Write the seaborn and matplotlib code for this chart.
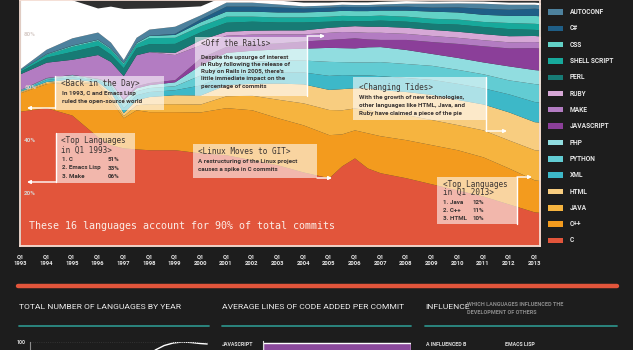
import matplotlib
matplotlib.use("Agg")
import matplotlib.pyplot as plt
import seaborn as sns
from matplotlib.patches import Rectangle, FancyArrowPatch
from matplotlib.lines import Line2D

# ---------------- data (share of commits, %) ----------------
years = [1993, 1994, 1995, 1996, 1996.5, 1997, 1997.5, 1998, 1999, 2000, 2001, 2002, 2003,
         2004, 2005, 2005.5, 2006, 2006.5, 2007, 2008, 2009, 2010, 2011, 2012, 2013, 2013.25]
c_lang = [51, 52.3, 49.5, 41.3, 38.3, 37.1, 36.7, 36.4, 36.4, 35.2, 34.5, 32.6, 30.7, 28, 25.8, 30.3, 33.3, 29.5, 27.7, 25.8, 23.5, 21.2, 18.9, 15.9, 12.9, 12.7]
cpp = [7, 9.1, 12.5, 20, 17, 11.4, 14.8, 14.4, 14.4, 15.5, 17.8, 18.9, 17.8, 17.8, 16.3, 12.1, 10.6, 13.3, 14, 14.4, 14.8, 15.2, 14.8, 13.6, 12.1, 12]
java = [0.3, 0.4, 0.6, 0.4, 1.5, 0.8, 1.9, 3, 3, 3, 4.5, 5.5, 7, 8.3, 9.5, 9.1, 8.3, 8.7, 9.1, 9.5, 9.5, 9.5, 10.2, 10.6, 11.4, 11.5]
html = [0.3, 0.4, 0.6, 0.4, 1.5, 1.1, 1.9, 2.7, 3.4, 3.4, 4.2, 4.5, 6.1, 7.2, 7.6, 8, 7.6, 8.3, 8.3, 8.7, 9.5, 9.5, 9.8, 10.6, 10.6, 10.6]
xml = [0.3, 0.8, 0.8, 0.6, 2.3, 1.9, 1.9, 1.9, 1.9, 3.8, 3.8, 3.8, 4.2, 4.5, 5.3, 5.3, 4.9, 4.9, 5.3, 5.3, 5.7, 6.1, 6.1, 6.8, 7.6, 7.6]
python = [0.3, 0.4, 0.4, 0.4, 0.8, 1.5, 1.5, 1.5, 1.5, 3.8, 4.2, 4.5, 4.5, 4.5, 5.3, 4.9, 4.9, 4.9, 5.3, 5.3, 5.3, 5.3, 5.3, 5.3, 6.8, 6.8]
php = [0, 0.2, 0.4, 0.2, 0.4, 1.5, 1.1, 1.1, 1.5, 3.8, 4.2, 4.2, 4.2, 4.5, 5.3, 5.3, 5.3, 5.7, 5.7, 5.3, 4.5, 4.5, 4.5, 5.3, 5.3, 5.3]
javascript = [0, 0.1, 0.1, 0.1, 0.2, 0.4, 0.8, 0.8, 0.8, 2.7, 2.3, 2.3, 2.3, 2.7, 3, 3.4, 3.8, 3, 2.7, 3.8, 4.5, 5.3, 6.1, 6.8, 8.3, 8.3]
make = [6, 5.8, 5.7, 9, 7.8, 8.7, 11.7, 11.7, 9.5, 4.9, 4.2, 3.8, 3.4, 2.7, 2.7, 2.7, 2.3, 2.5, 2.7, 2.3, 2.3, 2.3, 2.3, 2.3, 2.3, 2.3]
ruby = [0, 0, 0, 0, 0, 0, 0, 0, 0.8, 1.9, 1.5, 1.5, 1.5, 1.5, 1.9, 1.9, 2.3, 2.3, 2.3, 2.3, 2.3, 2.3, 2.3, 2.3, 2.3, 2.3]
perl = [1, 1.9, 3, 3.4, 2.7, 3, 2.7, 3, 3.4, 3, 3.4, 3.4, 3, 3, 2.3, 2.3, 1.9, 2.1, 2.3, 2.3, 2.3, 2.7, 2.7, 2.7, 2.3, 2.3]
shell = [0.5, 1.1, 1.9, 1.9, 1.9, 1.5, 1.5, 2.3, 2.3, 2.3, 2.3, 1.9, 1.9, 1.9, 1.9, 1.9, 1.9, 1.9, 1.9, 1.9, 1.9, 1.9, 1.9, 2.3, 2.3, 2.3]
css = [0, 0.2, 0.4, 0.4, 0.4, 0.4, 0.4, 0.8, 1.1, 1.5, 1.9, 1.9, 1.9, 1.9, 1.9, 1.9, 1.9, 1.9, 1.9, 2.3, 2.7, 2.7, 2.7, 2.7, 3, 3]
csharp = [0, 0.1, 0.1, 0.1, 0.1, 0.1, 0.1, 0.1, 0.4, 1.1, 1.9, 1.9, 1.9, 1.5, 1.5, 1.5, 1.5, 1.5, 1.5, 1.5, 1.5, 1.9, 2.3, 2.3, 2.7, 2.7]
autoconf = [0.5, 1.6, 2.7, 2.7, 2.2, 1.1, 1.9, 2.3, 2.7, 1.5, 1.5, 1.5, 1.1, 0.8, 0.8, 0.8, 0.8, 0.8, 0.8, 1.1, 1.5, 1.5, 1.9, 1.9, 1.5, 1.5]
emacs_lisp = [33, 24, 14.4, 9.1, 13.6, 19.3, 11, 8, 7.2, 3.4, 2.7, 2.3, 1.5, 1.4, 1.1, 1, 1, 1, 1, 1, 0.8, 0.8, 0.8, 0.8, 0.8, 0.8]

languages = ["C", "C++", "JAVA", "HTML", "XML", "PYTHON", "PHP", "JAVASCRIPT", "MAKE",
             "RUBY", "PERL", "SHELL SCRIPT", "CSS", "C#", "AUTOCONF", "EMACS LISP"]
lang_colors = ["#e2553b", "#f39b1e", "#f6b43f", "#f8cd80", "#3db8c8", "#62ccd3", "#91dde0",
               "#8b3f99", "#b37cc2", "#d6a8d6", "#177b75", "#17a99b", "#62d1c6", "#1f5e86",
               "#4d819d", "#ffffff"]
series = [c_lang, cpp, java, html, xml, python, php, javascript, make, ruby, perl, shell,
          css, csharp, autoconf, emacs_lisp]

tick_years = list(range(1993, 2014))
y_ticks = [80, 60, 40, 20]

# small charts under the main chart (only their top edge is visible)
lang_count_years = [2005, 2006, 2007, 2008, 2009, 2010, 2011, 2012, 2012.8]
lang_count = [70, 84, 92, 96.5, 99, 100, 99.5, 98.5, 98]
avg_loc_langs = ["JAVASCRIPT"]
avg_loc = [100]

# ---------------- style ----------------
sns.set_style("dark")
BG = "#1d1d1d"
MONO = "DejaVu Sans Mono"
SANS = "Roboto"

W, H = 633, 350
fig = plt.figure(figsize=(W / 100, H / 100), dpi=100)
fig.patch.set_facecolor(BG)


def fx(x):
    return x / W


def fy(y):
    return 1 - y / H


def T(x, y, s, **kw):
    kw.setdefault("va", "center")
    kw.setdefault("ha", "left")
    return fig.text(fx(x), fy(y), s, **kw)


# ---------------- main stacked chart ----------------
ax = fig.add_axes([fx(20), fy(246), fx(540) - fx(20), fy(-0.5) - fy(246)])
ax.set_facecolor("#303030")
ax.stackplot(years, *series, colors=lang_colors, labels=languages, linewidth=0)
ax.set_xlim(1992.98, 2013.22)
ax.set_ylim(0, 93.2)
ax.set_xticks(tick_years)
ax.set_xticklabels([f"Q1\n{y}" for y in tick_years], fontsize=4.2, color="#e8e8e8",
                   family=SANS, fontweight="bold", linespacing=1.5)
ax.tick_params(axis="x", length=0, pad=6)
ax.set_yticks([])
for s in ax.spines.values():
    s.set_color("#f4ddd3")
    s.set_linewidth(1.3)
ax.grid(False)
for v in y_ticks:
    ax.text(0.008, v, f"{v}%", transform=ax.get_yaxis_transform(), fontsize=4.6,
            color="#d9cfcb", family=SANS, fontweight="bold", va="center")

ax.text(0.017, 7.5, "These 16 languages account for 90% of total commits",
        transform=ax.get_yaxis_transform(), fontsize=7.2, color="#fbeee8", family=MONO,
        va="center")

# ---------------- annotation boxes ----------------
BOX_ALPHA = 0.58
TXT = "#3a3433"


def box(x0, y0, x1, y1):
    fig.add_artist(Rectangle((fx(x0), fy(y1)), fx(x1) - fx(x0), fy(y0) - fy(y1),
                             transform=fig.transFigure, facecolor="white",
                             alpha=BOX_ALPHA, edgecolor="none"))


def arrow(points):
    xs = [fx(p[0]) for p in points]
    ys = [fy(p[1]) for p in points]
    if len(points) > 2:
        fig.add_artist(Line2D(xs[:-1], ys[:-1], transform=fig.transFigure,
                              color="white", lw=1.0))
    fig.add_artist(FancyArrowPatch((xs[-2], ys[-2]), (xs[-1], ys[-1]),
                                   transform=fig.transFigure, arrowstyle="-|>",
                                   mutation_scale=5, color="white", lw=1.0,
                                   shrinkA=0, shrinkB=0))


def title(x, y, s):
    T(x, y, s, fontsize=5.5, family=MONO, color=TXT)


def body(x, y, s):
    T(x, y, s, fontsize=4.5, family=SANS, fontweight="bold", color=TXT)


# Back in the Day
box(55, 76, 164, 110)
arrow([(55, 76), (55, 108), (27, 108)])
title(61, 84, "<Back in the Day>")
body(62, 93, "In 1993, C and Emacs Lisp")
body(62, 101, "ruled the open-source world")

# Top languages 1993
box(56, 133, 135, 183)
arrow([(56, 133), (56, 182), (27, 182)])
title(61, 141, "<Top Languages")
title(61, 150, "in Q1 1993>")
for i, (nm, pc) in enumerate([("1. C", "51%"), ("2. Emacs Lisp", "33%"), ("3. Make", "06%")]):
    body(62, 160 + 8 * i, nm)
    body(108, 160 + 8 * i, pc)

# Off the Rails
box(195, 37, 307, 96)
arrow([(307, 96), (307, 36), (325, 36)])
title(201, 44, "<Off the Rails>")
for i, s in enumerate(["Despite the upsurge of interest", "in Ruby following the release of",
                       "Ruby on Rails in 2005, there's", "little immediate impact on the",
                       "percentage of commits"]):
    body(201, 57 + 7.3 * i, s)

# Changing Tides
box(353, 77, 486, 120)
arrow([(486, 77), (486, 131), (507, 131)])
title(359, 87, "<Changing Tides>")
for i, s in enumerate(["With the growth of new technologies,",
                       "other languages like HTML, Java, and",
                       "Ruby have claimed a piece of the pie"]):
    body(359, 98 + 7.5 * i, s)

# Linux moves to GIT
box(193, 144, 317, 178)
arrow([(317, 178), (332, 178)])
title(198, 152, "<Linux Moves to GIT>")
body(198, 162, "A restructuring of the Linux project")
body(198, 169, "causes a spike in C commits")

# Top languages 2013
box(437, 177, 517, 224)
arrow([(517, 224), (517, 177), (532, 177)])
title(443, 184.5, "<Top Languages")
title(443, 192.5, "in Q1 2013>")
for i, (nm, pc) in enumerate([("1. Java", "12%"), ("2. C++", "11%"), ("3. HTML", "10%")]):
    body(443, 203 + 7.5 * i, nm)
    body(473, 203 + 7.5 * i, pc)

# ---------------- legend (15 visible entries) ----------------
leg_y = [240.3, 224, 208, 191.7, 175, 159, 142.7, 126, 109.7, 93.7, 77.3, 61, 44.7, 28.3, 12]
for nm, col, yy in zip(languages[:15], lang_colors[:15], leg_y):
    fig.add_artist(Rectangle((fx(548), fy(yy + 2.6)), fx(15), 5.2 / H,
                             transform=fig.transFigure, facecolor=col, edgecolor="none"))
    T(570, yy, nm, fontsize=4.8, family=SANS, fontweight="bold", color="#e4e4e4")

# ---------------- lower section ----------------
fig.add_artist(Line2D([fx(18), fx(617)], [fy(286), fy(286)], transform=fig.transFigure,
                      color="#e2553b", lw=3.2))
for x0, x1 in [(19, 209), (222, 411), (425, 617)]:
    fig.add_artist(Line2D([fx(x0), fx(x1)], [fy(326), fy(326)], transform=fig.transFigure,
                          color="#2c8d86", lw=1.3))
HEAD = dict(fontsize=6.1, family=SANS, color="#ececec")
T(19, 307, "TOTAL NUMBER OF LANGUAGES BY YEAR", **HEAD)
T(222, 307, "AVERAGE LINES OF CODE ADDED PER COMMIT", **HEAD)
T(425, 307, "INFLUENCE", **HEAD)
T(467, 304, "WHICH LANGUAGES INFLUENCED THE", fontsize=4.0, family=SANS, fontweight="bold",
  color="#8a8a8a")
T(467, 312, "DEVELOPMENT OF OTHERS", fontsize=4.0, family=SANS, fontweight="bold",
  color="#8a8a8a")

# languages by year (line chart, only its top visible)
ax2 = fig.add_axes([fx(30), fy(442), fx(209) - fx(30), fy(342) - fy(442)])
ax2.set_facecolor(BG)
sns.lineplot(x=lang_count_years, y=lang_count, ax=ax2, color="white", lw=1.0)
ax2.set_xlim(1993, 2013)
ax2.set_ylim(0, 100)
ax2.axhline(100, color="#3a3a3a", lw=0.6, ls=":")
for sp in ["top", "right", "bottom"]:
    ax2.spines[sp].set_visible(False)
ax2.spines["left"].set_color("#8c8c8c")
ax2.spines["left"].set_linewidth(0.8)
ax2.set_xticks([])
ax2.set_yticks([100])
ax2.set_yticklabels(["100"], fontsize=3.8, color="#dcdcdc", family=SANS, fontweight="bold")
ax2.tick_params(axis="y", length=0, pad=3)
ax2.set_xlabel("")
ax2.set_ylabel("")
ax2.grid(False)

# average lines of code (bar chart, only first bar top visible)
ax3 = fig.add_axes([fx(263), fy(372), fx(411) - fx(263), fy(341) - fy(372)])
ax3.set_facecolor(BG)
ax3.barh(avg_loc_langs, avg_loc, color="#8b4a9c", height=0.45, align="center")
ax3.set_xlim(0, 100)
ax3.set_ylim(1.5, -0.35)
for sp in ["top", "right", "bottom"]:
    ax3.spines[sp].set_visible(False)
ax3.spines["left"].set_color("#d8d8d8")
ax3.spines["left"].set_linewidth(0.8)
ax3.set_xticks([])
ax3.set_yticks([])
ax3.grid(False)
T(222, 345, avg_loc_langs[0], fontsize=3.8, family=SANS, fontweight="bold", color="#dcdcdc")

T(426, 344, "A INFLUENCED B", fontsize=3.8, family=SANS, fontweight="bold", color="#dcdcdc")
T(505, 345, "EMACS LISP", fontsize=3.8, family=SANS, fontweight="bold", color="#dcdcdc")

fig.savefig("out.png", dpi=100, facecolor=BG)
